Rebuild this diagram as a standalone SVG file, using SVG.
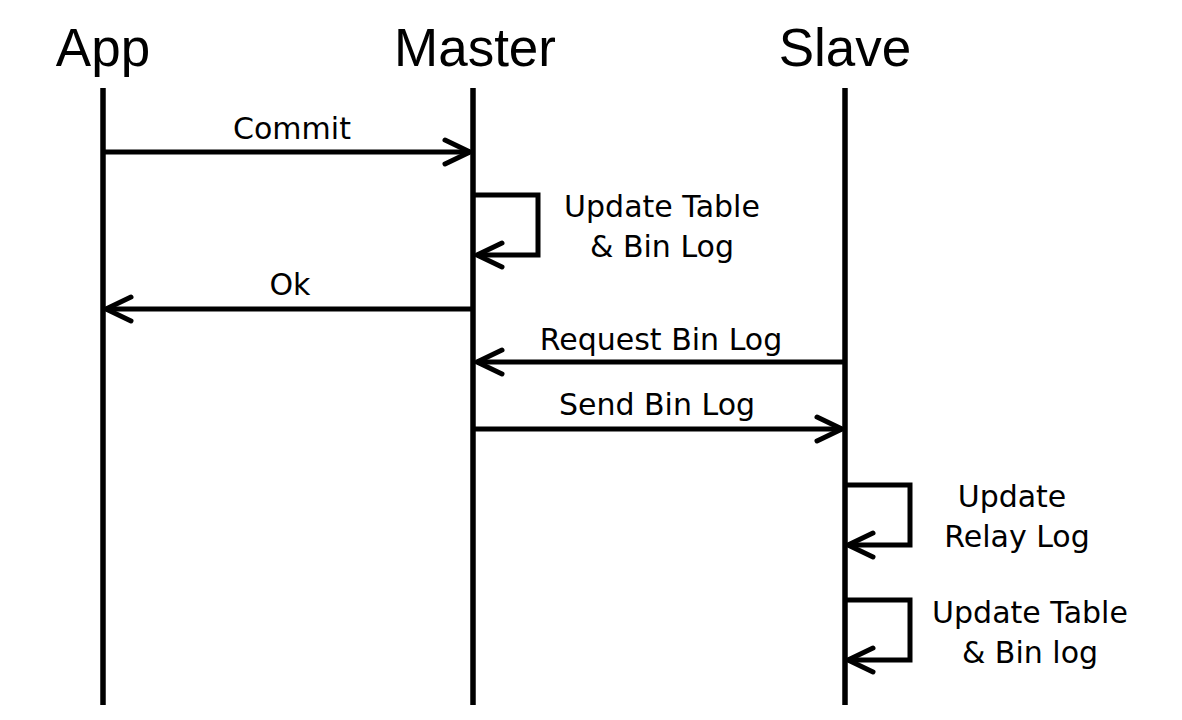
<svg xmlns="http://www.w3.org/2000/svg" width="1182" height="720" viewBox="0 0 1182 720">
  <style>
    .title { font-family: "Liberation Sans", Arial, sans-serif; font-size: 53px; fill: #000; text-anchor: middle; }
    .label { font-family: "DejaVu Sans", Verdana, sans-serif; font-size: 30px; fill: #000; text-anchor: middle; }
    .life { stroke: #000; stroke-width: 5.5; fill: none; }
    .msg { stroke: #000; stroke-width: 5; fill: none; stroke-linejoin: miter; marker-end: url(#arrow); }
  </style>
  <defs>
    <marker id="arrow" markerUnits="userSpaceOnUse" viewBox="-32 -16 36 32" markerWidth="36" markerHeight="32" refX="0" refY="0" orient="auto">
      <path d="M-25,-12 L0,0 L-25,12" fill="none" stroke="#000" stroke-width="5" stroke-linecap="round" stroke-linejoin="round"/>
    </marker>
  </defs>
  <rect width="1182" height="720" fill="#fff"/>

  <g id="app">
    <text class="title" x="103" y="66">App</text>
    <line class="life" x1="103" y1="88" x2="103" y2="705"/>
  </g>
  <g id="master">
    <text class="title" x="475" y="66">Master</text>
    <line class="life" x1="473" y1="88" x2="473" y2="705"/>
  </g>
  <g id="slave">
    <text class="title" x="845" y="66">Slave</text>
    <line class="life" x1="845" y1="88" x2="845" y2="705"/>
  </g>

  <g id="connectors">
    <path class="msg" d="M103,152 H470"/>
    <path class="msg" d="M473,195 H538 V255 H477"/>
    <path class="msg" d="M473,309 H106"/>
    <path class="msg" d="M845,362 H477"/>
    <path class="msg" d="M473,429 H842"/>
    <path class="msg" d="M845,485 H910 V545 H848"/>
    <path class="msg" d="M845,600 H910 V660 H848"/>
  </g>

  <g id="labels">
    <text class="label" x="292" y="139">Commit</text>
    <text class="label" x="662" y="217">Update Table</text>
    <text class="label" x="662" y="257">&amp; Bin Log</text>
    <text class="label" x="290" y="295">Ok</text>
    <text class="label" x="661" y="350">Request Bin Log</text>
    <text class="label" x="657" y="415">Send Bin Log</text>
    <text class="label" x="1012" y="507">Update</text>
    <text class="label" x="1017" y="547">Relay Log</text>
    <text class="label" x="1030" y="623">Update Table</text>
    <text class="label" x="1030" y="663">&amp; Bin log</text>
  </g>
</svg>
